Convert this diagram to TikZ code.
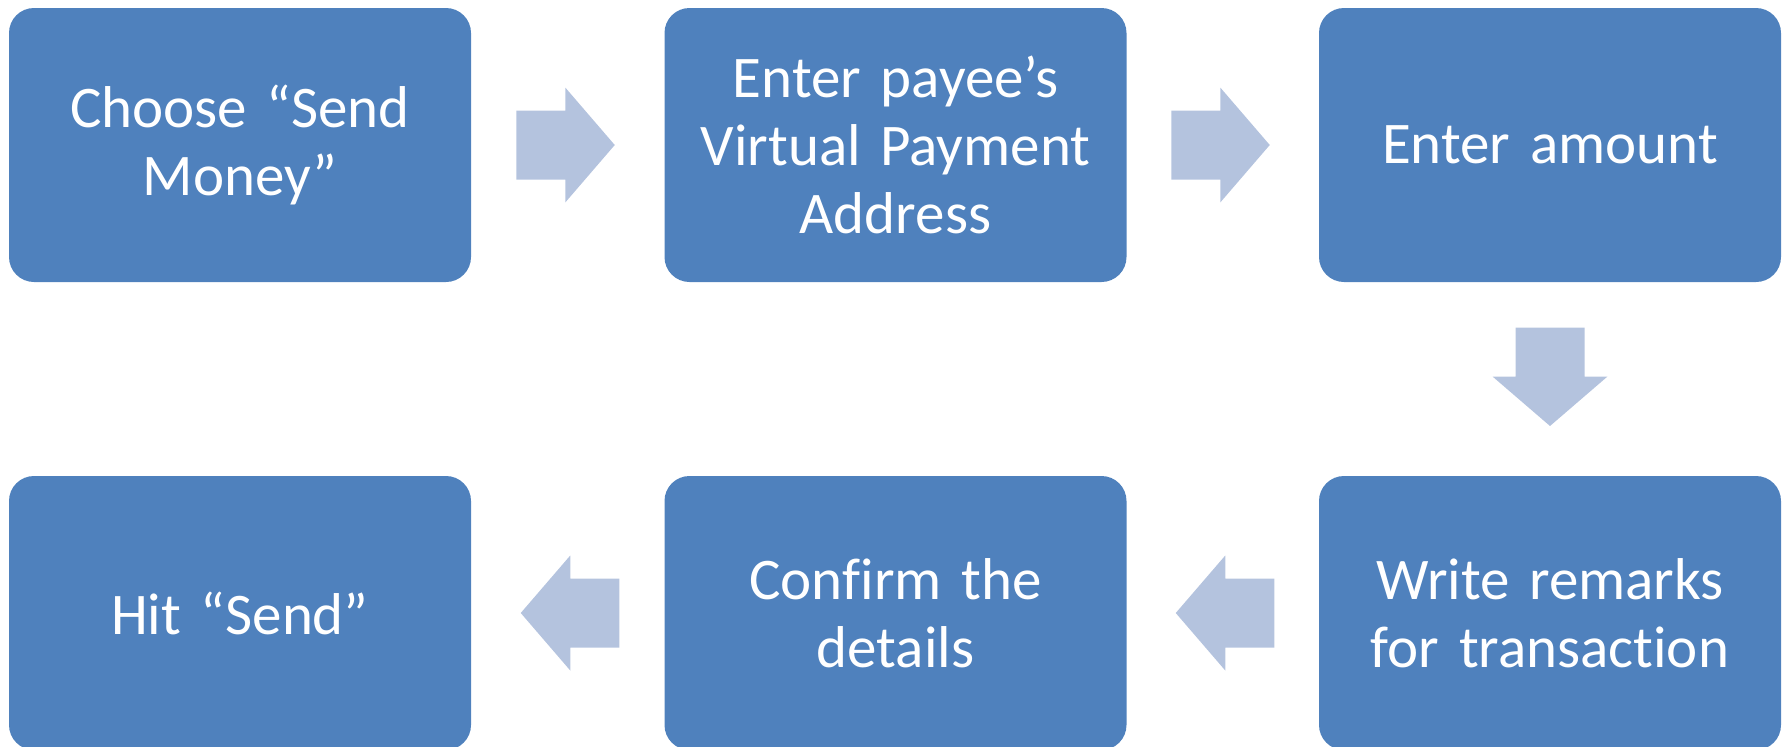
\documentclass[tikz,border=0pt]{standalone}
\usepackage{fontspec}
\setmainfont{Carlito}[Ligatures=NoCommon]
\usetikzlibrary{calc}
\definecolor{boxblue}{RGB}{79,129,189}
\definecolor{arrowblue}{RGB}{180,195,222}
\tikzset{
  stepbox/.style={fill=boxblue, rounded corners=25pt, minimum width=462pt,
    minimum height=274pt, inner sep=0pt, text=white, text width=440pt,
    align=center, font=\fontsize{59}{68}\selectfont},
  flowarrow/.pic={
    \fill[arrowblue] (-51.5,-34.5) -- (-2.5,-34.5) -- (-2.5,-57.5) -- (47,0)
      -- (-2.5,57.5) -- (-2.5,34.5) -- (-51.5,34.5) -- cycle;
  }
}
\begin{document}
\begin{tikzpicture}[x=1pt, y=-1pt]
  \useasboundingbox (0,0) rectangle (1792,747);
  % top row
  \node[stepbox] (s1) at (240,145) {Choose “Send\\Money”};
  \node[stepbox] (s2) at (895.5,145) {Enter payee’s\\Virtual Payment\\Address};
  \node[stepbox] (s3) at (1550,145) {Enter amount};
  % bottom row
  \node[stepbox] (s4) at (1550,613) {Write remarks\\for transaction};
  \node[stepbox] (s5) at (895.5,613) {Confirm the\\details};
  \node[stepbox] (s6) at (240,613) {Hit “Send”};
  % block arrows between the steps
  \path ($(s1.east)!0.5!(s2.west)$) pic {flowarrow};
  \path ($(s2.east)!0.5!(s3.west)$) pic {flowarrow};
  \path ($(s3.south)!0.5!(s4.north)$) pic[rotate=-90] {flowarrow};
  \path ($(s4.west)!0.5!(s5.east)$) pic[rotate=180] {flowarrow};
  \path ($(s5.west)!0.5!(s6.east)$) pic[rotate=180] {flowarrow};
\end{tikzpicture}
\end{document}
